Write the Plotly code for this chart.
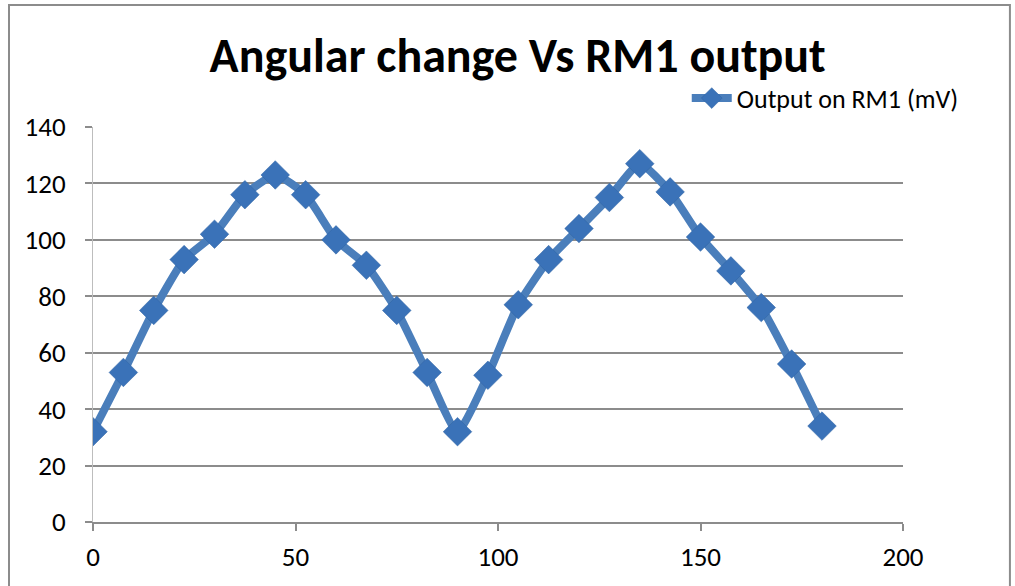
import plotly.graph_objects as go

# Angle of rotation (degrees) and the measured RM1 output (mV)
angle_deg = [0, 7.5, 15, 22.5, 30, 37.5, 45, 52.5, 60, 67.5, 75, 82.5, 90,
             97.5, 105, 112.5, 120, 127.5, 135, 142.5, 150, 157.5, 165, 172.5, 180]
output_mv = [32, 53, 75, 93, 102, 116, 123, 116, 100, 91, 75, 53, 32,
             52, 77, 93, 104, 115, 127, 117, 101, 89, 76, 56, 34]

series_name = "Output on RM1 (mV)"
chart_title = "Angular change Vs RM1 output"
x_ticks = [0, 50, 100, 150, 200]
y_ticks = [0, 20, 40, 60, 80, 100, 120, 140]

FONT = "Carlito, Lato, 'Open Sans', sans-serif"

fig = go.Figure()
fig.add_trace(go.Scatter(
    x=angle_deg,
    y=output_mv,
    name=series_name,
    mode="lines+markers",
    line=dict(color="#4A7EBB", width=8, shape="spline", smoothing=0.5),
    marker=dict(symbol="diamond", size=22, color="#3A72B8",
                line=dict(color="#2F62A3", width=0.5)),
    showlegend=True,
))

fig.update_layout(
    width=1015,
    height=586,
    paper_bgcolor="white",
    plot_bgcolor="white",
    margin=dict(l=93, r=112, t=127, b=64),
    font=dict(family=FONT, color="black"),
    title=dict(text="<b>" + chart_title + "</b>", x=0.51, xanchor="center",
               y=0.905, yanchor="middle",
               font=dict(family=FONT, size=48, color="black")),
    legend=dict(x=1.075, xanchor="right", y=1.073, yanchor="middle",
                bgcolor="rgba(0,0,0,0)", font=dict(family=FONT, size=26),
                itemwidth=40, tracegroupgap=0),
    xaxis=dict(range=[0, 200], tickvals=x_ticks, showgrid=False,
               zeroline=False, showline=True, linecolor="#8C8C8C", linewidth=2,
               ticks="outside", ticklen=7, tickcolor="#8C8C8C", tickwidth=2,
               tickfont=dict(family=FONT, size=27), ticklabelstandoff=3),
    yaxis=dict(range=[0, 140], tickvals=y_ticks, showgrid=True,
               gridcolor="#8C8C8C", gridwidth=1.5, zeroline=False,
               showline=True, linecolor="#BDBDBD", linewidth=1,
               ticks="outside", ticklen=7, tickcolor="#8C8C8C", tickwidth=1.5,
               tickfont=dict(family=FONT, size=27), ticklabelstandoff=14),
    shapes=[dict(type="rect", xref="paper", yref="paper",
                 x0=-0.1037, x1=1.132, y0=-0.3, y1=1.309,
                 line=dict(color="#8C8C8C", width=2), fillcolor="rgba(0,0,0,0)",
                 layer="below")],
)

fig.write_html("out.html")
